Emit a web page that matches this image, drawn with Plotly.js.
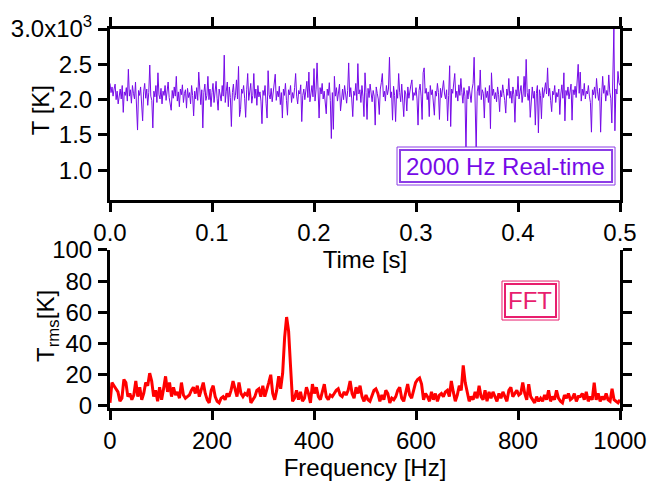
<!DOCTYPE html>
<html>
<head>
<meta charset="utf-8">
<script src="https://cdn.plot.ly/plotly-3.0.1.min.js"></script>
<style>html,body{margin:0;padding:0;background:#fff;}</style>
</head>
<body>
<div id="chart" style="width:647px;height:483px;"></div>
<script>
// ---- data ----
// Real-time temperature, one value per millisecond from 0 to 0.5 s [K]
const tempK = [
2230,2100,2180,2050,2150,2220,2000,2120,1940,2080,
2150,2010,2200,1820,2110,2060,2170,1980,2430,2050,
2140,1950,2200,2090,2010,2250,1900,1570,2130,2060,
2180,1990,1700,2110,2230,2020,2150,1920,2100,2490,
2050,1990,1600,2120,2040,2200,1960,2380,2070,2010,
2160,1940,2120,2060,2200,1990,2090,2250,2030,1930,
1850,2130,2020,2180,2050,2330,1980,2110,1900,2150,
2070,2210,1960,2090,2140,1880,2160,2030,2100,1940,
2200,2060,1770,2120,2010,2170,1990,2390,2050,1930,
2140,1600,2100,2220,1990,2060,2330,2000,2150,1900,
2100,2230,1960,2080,2260,2020,1850,2150,2070,1980,
2200,2050,2630,1960,2120,2250,1900,2180,2030,1620,
2100,2220,1990,2060,2280,2010,2470,1760,1860,2150,
2090,2200,2020,1750,2140,2370,1990,2100,2230,1950,
2060,2370,2020,2150,1920,2200,2040,2110,1980,1660,
2130,2060,2200,1950,1740,2410,2070,2010,2160,1970,
2080,2220,2360,1990,2120,2040,2190,1930,2100,1740,
2150,2060,2230,1990,1780,2140,2070,2200,1960,2100,
2020,2170,2370,2050,1940,2130,2080,2210,1690,2060,
2150,2000,2120,2260,2030,2390,1970,2110,2200,2040,
2440,1980,2140,2520,2050,1740,2170,2080,2230,2010,
2120,1950,1800,2150,2060,2240,1990,1450,2100,1580,
2330,2050,2170,1980,2110,2220,1840,2060,2150,2000,
2200,2080,1950,2130,2520,2040,2170,2010,1760,2120,
2060,2230,1990,2510,2080,2140,1960,2200,2050,1760,
2380,2100,1720,2160,2030,2220,2080,1970,2130,2050,
1640,2180,2090,2010,1790,2150,2240,2370,2040,2120,
1980,2200,2070,2150,2600,2030,2110,1710,2190,2060,
1690,2140,2020,2370,2100,1970,2220,2050,1760,2130,
2080,1840,2180,2020,2140,2210,2280,1990,2100,2060,
2170,2010,1640,2130,2220,2050,1720,2380,2450,2090,
2160,2000,2110,1760,2200,2070,2140,1990,1780,2120,
2050,2230,2100,1720,2160,2030,2190,2270,2080,2010,
2140,1700,2060,2480,1620,2150,2090,2200,2370,2030,
2120,1980,2210,2060,2300,2100,1950,2170,2050,1260,
2130,2010,2190,2080,1960,2150,2230,2600,2040,1280,
2110,2200,2060,2420,2000,2140,2090,1740,2170,2030,
2120,1960,2200,1590,2380,2060,2150,2010,2100,1970,
2180,2070,1830,2130,2040,2210,2090,1990,1810,2150,
2060,2300,2020,2120,1950,2180,2070,1680,2140,2050,
2330,2010,2110,2200,1960,2080,2330,2040,2570,2100,
1990,2150,1750,2060,2180,2020,2120,1640,2090,2200,
1530,2140,2060,1730,2170,2030,2110,2240,2080,2450,
2050,2160,1990,1830,2120,2070,2200,1960,2100,2040,
2150,1790,2080,2210,2020,2380,1700,2130,2060,2180,
2010,2100,2220,1710,2140,2070,2190,2030,2260,2500,
2090,2390,1980,2150,2060,2230,2010,2120,2080,2200,
2050,1960,1540,2140,2070,2180,2020,2300,2110,1990,
2160,1540,2050,2330,2090,2200,1980,2130,2060,2350,
2100,2020,1670,2180,3000,1560,2150,2080,2400,2240,
2200
];
const timeStart = 0;        // s
const timeStep = 0.001;     // s

// FFT amplitude spectrum, 0 .. 1000 Hz [K]
const fftK = [
2,15,13,11,9,3,5,17,15,6,8,
4,7,16,6,12,4,8,15,13,21,
16,6,10,3,12,4,11,19,9,15,
6,12,7,9,5,15,7,5,6,7,
10,12,8,13,6,10,15,8,4,2,
10,13,6,3,2,5,6,4,8,6,
10,16,11,6,15,8,6,8,7,11,
2,4,6,10,11,6,13,6,10,15,
20,8,4,10,19,11,21,44,57,48,
25,3,5,10,4,9,3,5,12,8,
2,14,8,12,6,4,9,14,6,4,
7,6,8,10,11,7,6,9,7,10,
16,8,5,12,8,13,6,3,7,4,
3,6,10,11,8,3,7,4,10,8,
2,5,4,6,10,12,5,3,9,14,
7,5,10,15,17,18,14,4,8,6,
3,9,4,8,3,7,8,6,9,10,
6,16,9,3,7,13,10,26,15,8,
3,6,4,9,5,13,6,4,10,3,
9,5,9,6,3,8,5,9,6,3,
10,12,6,8,10,7,8,15,8,4,
14,6,4,2,6,3,5,3,7,4,
10,3,6,4,10,5,3,2,7,5,
8,4,5,8,3,6,6,8,4,9,
3,6,4,15,4,8,3,6,4,8,
4,3,11,4,3,2,4
];
const freqStart = 0;    // Hz
const freqMax = 1000;   // Hz

const timeTickVals = [0, 0.1, 0.2, 0.3, 0.4, 0.5];
const timeTickText = ["0.0", "0.1", "0.2", "0.3", "0.4", "0.5"];
const tempTickVals = [1000, 1500, 2000, 2500, 3000];
const tempTickText = ["1.0", "1.5", "2.0", "2.5", "3.0x10<sup>3</sup>"];
const freqTickVals = [0, 200, 400, 600, 800, 1000];
const rmsTickVals = [0, 20, 40, 60, 80, 100];

// ---- chart ----
const purple = 'rgb(118,10,232)';
const boxPurple = 'rgb(140,60,230)';
const pink = 'rgb(232,30,110)';
const FONT = 'Liberation Sans, Arial, Helvetica, sans-serif';
const FS = 24;

const traces = [
  {type:'scatter', mode:'lines', x0: timeStart, dx: timeStep, y: tempK,
   xaxis:'x', yaxis:'y', line:{color:purple, width:1}, hoverinfo:'skip'},
  {type:'scatter', mode:'lines', x0: freqStart, dx: freqMax/(fftK.length-1), y: fftK,
   xaxis:'x2', yaxis:'y2', line:{color:'rgb(255,0,0)', width:3}, hoverinfo:'skip'}
];

const axCommon = {
  showline:true, linewidth:3, linecolor:'black', ticks:'outside', ticklen:9,
  tickwidth:3, tickcolor:'black', showgrid:false, zeroline:false,
  tickfont:{family:FONT, size:FS, color:'black'}
};

const layout = {
  width:647, height:483,
  margin:{l:110, r:27, t:29, b:75, pad:0},
  paper_bgcolor:'white', plot_bgcolor:'white',
  showlegend:false,
  font:{family:FONT, size:FS, color:'black'},
  xaxis: Object.assign({}, axCommon, {
    domain:[0,1], anchor:'y', range:[0,0.5], tickmode:'array',
    tickvals:timeTickVals, ticktext:timeTickText, mirror:'ticks',
    title:{text:'Time [s]', font:{family:FONT, size:FS}, standoff:2}
  }),
  yaxis: Object.assign({}, axCommon, {
    domain:[0.5488,1], anchor:'x', range:[580,3000], tickmode:'array',
    tickvals:tempTickVals, ticktext:tempTickText, mirror:'ticks', ticklabelstandoff:1
  }),
  xaxis2: Object.assign({}, axCommon, {
    domain:[0,1], anchor:'y2', range:[0,1000], tickmode:'array',
    tickvals:freqTickVals, mirror:false,
    title:{text:'Frequency [Hz]', font:{family:FONT, size:FS}, standoff:2}
  }),
  yaxis2: Object.assign({}, axCommon, {
    domain:[0,0.4169], anchor:'x2', range:[-1.3,100], tickmode:'array',
    tickvals:rmsTickVals, mirror:'ticks', ticklabelstandoff:1
  }),
  shapes:[
    {type:'rect', xref:'x', yref:'y', x0:0.2814, x1:0.4951, y0:792, y1:1330,
     line:{color:boxPurple, width:1}, fillcolor:'white', layer:'above'},
    {type:'rect', xref:'x', yref:'y', x0:0.2843, x1:0.4922, y0:835, y1:1288,
     line:{color:boxPurple, width:2}, fillcolor:'white', layer:'above'},
    {type:'rect', xref:'x2', yref:'y2', x0:768.6, x1:880.4, y0:55.1, y1:80.1,
     line:{color:pink, width:1}, fillcolor:'white', layer:'above'},
    {type:'rect', xref:'x2', yref:'y2', x0:774.5, x1:874.5, y0:57.1, y1:78.2,
     line:{color:pink, width:2}, fillcolor:'white', layer:'above'}
  ],
  annotations:[
    {xref:'paper', yref:'paper', x:-0.137, y:0.786, text:'T [K]', showarrow:false,
     textangle:-90, font:{family:FONT, size:FS, color:'black'}, xanchor:'center', yanchor:'middle'},
    {xref:'paper', yref:'paper', x:-0.124, y:0.216, text:'T<sub>rms</sub>[K]', showarrow:false,
     textangle:-90, font:{family:FONT, size:FS, color:'black'}, xanchor:'center', yanchor:'middle'},
    {xref:'x', yref:'y', x:0.3873, y:1061, text:'2000 Hz Real-time', showarrow:false,
     font:{family:FONT, size:FS, color:purple}, xanchor:'center', yanchor:'middle'},
    {xref:'x2', yref:'y2', x:823.5, y:67.9, text:'FFT', showarrow:false,
     font:{family:FONT, size:FS, color:pink}, xanchor:'center', yanchor:'middle'}
  ]
};

Plotly.newPlot('chart', traces, layout, {staticPlot:true, displayModeBar:false});
</script>
</body>
</html>
